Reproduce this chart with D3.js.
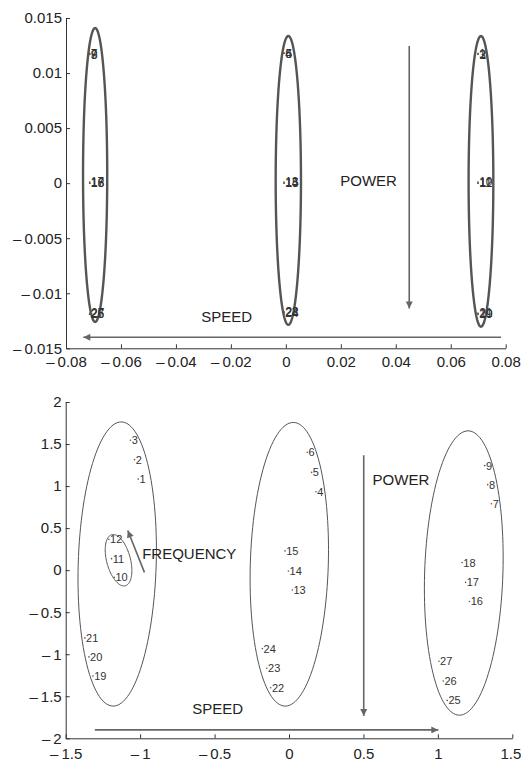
<!DOCTYPE html>
<html>
<head>
<meta charset="utf-8">
<script src="https://cdn.jsdelivr.net/npm/d3@7"></script>
<style>
    body { margin: 0; background: #fff; }
    svg { display: block; font-family: "Liberation Sans", Arial, Helvetica, sans-serif; }
</style>
</head>
<body>
<div id="chart"></div>
<script>
// ---- top panel (small scale projection) ----
const topXTicks = [-0.08, -0.06, -0.04, -0.02, 0, 0.02, 0.04, 0.06, 0.08];
const topYTicks = [-0.015, -0.01, -0.005, 0, 0.005, 0.01, 0.015];

const topPoints = [
    { id: 7, x: -0.0714, y: 0.0118 }, { id: 8, x: -0.0713, y: 0.0117 }, { id: 9, x: -0.0714, y: 0.0117 },
    { id: 17, x: -0.0714, y: 0.0001 }, { id: 18, x: -0.0713, y: 0.0 }, { id: 16, x: -0.0714, y: 0.0 },
    { id: 27, x: -0.0713, y: -0.0118 }, { id: 26, x: -0.0714, y: -0.0119 }, { id: 25, x: -0.0714, y: -0.0119 },
    { id: 4, x: -0.0007, y: 0.0118 }, { id: 5, x: -0.0006, y: 0.0118 }, { id: 6, x: -0.0007, y: 0.0118 },
    { id: 13, x: -0.0007, y: 0.0001 }, { id: 15, x: -0.0006, y: 0.0 }, { id: 14, x: -0.0007, y: 0.0 },
    { id: 22, x: -0.0006, y: -0.0117 }, { id: 24, x: -0.0007, y: -0.0118 }, { id: 23, x: -0.0007, y: -0.0117 },
    { id: 1, x: 0.0699, y: 0.0118 }, { id: 2, x: 0.0700, y: 0.0117 }, { id: 3, x: 0.0699, y: 0.0117 },
    { id: 10, x: 0.0699, y: 0.0001 }, { id: 11, x: 0.0700, y: 0.0 }, { id: 12, x: 0.0699, y: 0.0 },
    { id: 21, x: 0.0699, y: -0.0118 }, { id: 19, x: 0.0700, y: -0.0119 }, { id: 20, x: 0.0699, y: -0.0119 }
];

const topEllipses = [
    { cx: -0.0694, cy: 0.00074, rx: 0.0044, ry: 0.01335, lean: 0 },
    { cx: 0.0009, cy: 0.00025, rx: 0.0046, ry: 0.01312, lean: 0 },
    { cx: 0.0710, cy: 0.00016, rx: 0.0045, ry: 0.0132, lean: 0 }
];

const topArrows = [
    { from: [0.0449, 0.01246], to: [0.0449, -0.01138] },
    { from: [0.0783, -0.0140], to: [-0.0737, -0.0140] }
];

const topNotes = [
    { text: "POWER", x: 0.0301, y: 0.0002 },
    { text: "SPEED", x: -0.0215, y: -0.0121 }
];

// ---- bottom panel ----
const bottomXTicks = [-1.5, -1, -0.5, 0, 0.5, 1, 1.5];
const bottomYTicks = [-2, -1.5, -1, -0.5, 0, 0.5, 1, 1.5, 2];

const bottomPoints = [
    { id: 1, x: -1.013, y: 1.083 }, { id: 2, x: -1.038, y: 1.315 }, { id: 3, x: -1.065, y: 1.545 },
    { id: 4, x: 0.181, y: 0.933 }, { id: 5, x: 0.152, y: 1.163 }, { id: 6, x: 0.123, y: 1.402 },
    { id: 7, x: 1.360, y: 0.790 }, { id: 8, x: 1.335, y: 1.017 }, { id: 9, x: 1.315, y: 1.243 },
    { id: 10, x: -1.174, y: -0.086 }, { id: 11, x: -1.192, y: 0.137 }, { id: 12, x: -1.210, y: 0.368 },
    { id: 13, x: 0.022, y: -0.236 }, { id: 14, x: -0.004, y: -0.010 }, { id: 15, x: -0.027, y: 0.229 },
    { id: 16, x: 1.212, y: -0.372 }, { id: 17, x: 1.186, y: -0.145 }, { id: 18, x: 1.163, y: 0.090 },
    { id: 19, x: -1.317, y: -1.259 }, { id: 20, x: -1.344, y: -1.032 }, { id: 21, x: -1.371, y: -0.806 },
    { id: 22, x: -0.123, y: -1.399 }, { id: 23, x: -0.149, y: -1.167 }, { id: 24, x: -0.179, y: -0.933 },
    { id: 25, x: 1.063, y: -1.549 }, { id: 26, x: 1.036, y: -1.318 }, { id: 27, x: 1.007, y: -1.083 }
];

const bottomEllipses = [
    { cx: -1.154, cy: 0.073, rx: 0.262, ry: 1.69, lean: 0.027 },
    { cx: 0.002, cy: 0.070, rx: 0.262, ry: 1.687, lean: 0.027 },
    { cx: 1.174, cy: -0.034, rx: 0.263, ry: 1.691, lean: 0.029 },
    { cx: -1.145, cy: 0.118, rx: 0.082, ry: 0.306, lean: -0.036 }
];

const bottomArrows = [
    { from: [0.502, 1.366], to: [0.502, -1.736] },
    { from: [-1.304, -1.90], to: [1.003, -1.90] },
    { from: [-0.971, -0.026], to: [-1.083, 0.472] }
];

const bottomNotes = [
    { text: "POWER", x: 0.752, y: 1.081 },
    { text: "FREQUENCY", x: -0.670, y: 0.201 },
    { text: "SPEED", x: -0.479, y: -1.651 }
];

const width = 521;
const height = 766;
const ink = "#222";
const markGrey = "#666";

const svg = d3.select("#chart").append("svg")
    .attr("width", width)
    .attr("height", height)
    .attr("viewBox", [0, 0, width, height]);

svg.append("defs").append("marker")
    .attr("id", "head")
    .attr("viewBox", "0 0 10 10")
    .attr("refX", 10)
    .attr("refY", 5)
    .attr("markerUnits", "userSpaceOnUse")
    .attr("markerWidth", 9)
    .attr("markerHeight", 7)
    .attr("orient", "auto")
    .append("path")
    .attr("d", "M0,0 L10,5 L0,10 z")
    .attr("fill", markGrey);

function formatTick(value) {
    if (value < 0) return "\u2013\u2009" + String(Math.abs(value));
    return String(value);
}

function renderPanel(opts) {
    const { x, y } = opts;
    const g = svg.append("g");

    // ellipses, drawn from their parameters through the scales
    const ellipseLine = d3.line()
        .x((d) => x(d[0]))
        .y((d) => y(d[1]))
        .curve(d3.curveLinearClosed);

    g.selectAll("path.ellipse")
        .data(opts.ellipses)
        .join("path")
        .attr("class", "ellipse")
        .attr("fill", "none")
        .attr("stroke", opts.ellipseColour)
        .attr("stroke-width", opts.ellipseWidth)
        .attr("d", (e) => ellipseLine(d3.range(120).map((i) => {
            const t = (i / 120) * Math.PI * 2;
            return [e.cx + e.rx * Math.cos(t) + e.lean * Math.sin(t), e.cy + e.ry * Math.sin(t)];
        })));

    // arrows
    g.selectAll("line.arrow")
        .data(opts.arrows)
        .join("line")
        .attr("class", "arrow")
        .attr("x1", (d) => x(d.from[0]))
        .attr("y1", (d) => y(d.from[1]))
        .attr("x2", (d) => x(d.to[0]))
        .attr("y2", (d) => y(d.to[1]))
        .attr("stroke", markGrey)
        .attr("stroke-width", 1.6)
        .attr("marker-end", "url(#head)");

    // notes
    g.selectAll("text.note")
        .data(opts.notes)
        .join("text")
        .attr("class", "note")
        .attr("x", (d) => x(d.x))
        .attr("y", (d) => y(d.y))
        .attr("text-anchor", "middle")
        .attr("dy", "0.36em")
        .attr("font-size", 15)
        .attr("fill", ink)
        .text((d) => d.text);

    // points + labels
    g.selectAll("circle.pt")
        .data(opts.points)
        .join("circle")
        .attr("class", "pt")
        .attr("cx", (d) => x(d.x))
        .attr("cy", (d) => y(d.y))
        .attr("r", 0.8)
        .attr("fill", "#555");

    g.selectAll("text.lbl")
        .data(opts.points)
        .join("text")
        .attr("class", "lbl")
        .attr("x", (d) => x(d.x) + 1.2)
        .attr("y", (d) => y(d.y))
        .attr("dy", "0.36em")
        .attr("font-size", opts.labelSize)
        .attr("fill", "#333")
        .text((d) => d.id);

    // axes
    const [y0] = y.range();
    const [x0] = x.range();

    const xAxis = g.append("g")
        .attr("transform", `translate(0, ${y0})`)
        .call(d3.axisBottom(x).tickValues(opts.xTicks).tickFormat(formatTick)
            .tickSize(-4).tickSizeOuter(0).tickPadding(opts.xPad));

    const yAxis = g.append("g")
        .attr("transform", `translate(${x0}, 0)`)
        .call(d3.axisLeft(y).tickValues(opts.yTicks).tickFormat(formatTick)
            .tickSize(-4).tickSizeOuter(0).tickPadding(4));

    [xAxis, yAxis].forEach((ax) => {
        ax.attr("font-family", null).attr("font-size", null);
        ax.selectAll("text").attr("font-size", 15).attr("fill", ink);
        ax.selectAll(".tick line").attr("stroke", "#333");
        ax.select(".domain").attr("stroke", "#333");
    });

    // keep the last x label inside the page edge
    xAxis.selectAll(".tick text")
        .filter((d) => d === opts.xTicks[opts.xTicks.length - 1])
        .attr("dx", opts.lastDx);
}

renderPanel({
    x: d3.scaleLinear().domain([-0.08, 0.08]).range([66, 505.7]),
    y: d3.scaleLinear().domain([-0.015, 0.015]).range([348.3, 18]),
    xTicks: topXTicks,
    yTicks: topYTicks,
    points: topPoints,
    ellipses: topEllipses,
    arrows: topArrows,
    notes: topNotes,
    ellipseColour: "#555",
    ellipseWidth: 2.4,
    labelSize: 12,
    xPad: 8,
    lastDx: 0
});

renderPanel({
    x: d3.scaleLinear().domain([-1.5, 1.5]).range([65.7, 512.3]),
    y: d3.scaleLinear().domain([-2, 2]).range([738.3, 402]),
    xTicks: bottomXTicks,
    yTicks: bottomYTicks,
    points: bottomPoints,
    ellipses: bottomEllipses,
    arrows: bottomArrows,
    notes: bottomNotes,
    ellipseColour: "#555",
    ellipseWidth: 1,
    labelSize: 11,
    xPad: 10,
    lastDx: -2
});
</script>
</body>
</html>
